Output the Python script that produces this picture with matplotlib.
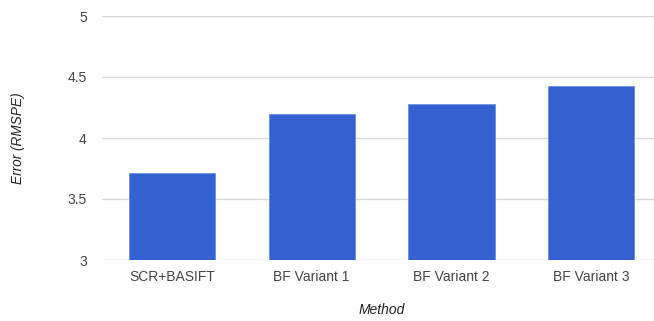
import matplotlib
matplotlib.use("Agg")
import matplotlib.pyplot as plt

categories = ["SCR+BASIFT", "BF Variant 1", "BF Variant 2", "BF Variant 3"]
values = [3.71, 4.20, 4.28, 4.43]
yticks = [3, 3.5, 4, 4.5, 5]
ytick_labels = ["3", "3.5", "4", "4.5", "5"]

plt.rcParams['font.family'] = ['Liberation Sans', 'DejaVu Sans']

fig = plt.figure(figsize=(6.54, 3.21), dpi=100)
ax = fig.add_axes([102/654, 1-260/321, 1-102/654, (260-16)/321])

x = list(range(len(categories)))
ax.bar(x, [v - 3 for v in values], bottom=3, width=0.616, color="#3461d0",
       edgecolor="#6f8fe0", linewidth=0.6, zorder=3)

ax.set_ylim(3, 5)
ax.set_xlim(-0.5, 3.449)
ax.set_yticks(yticks)
ax.set_yticklabels(ytick_labels)
ax.set_xticks(x)
ax.set_xticklabels(categories)
ax.tick_params(axis='both', length=0, labelsize=10, colors="#444444")
ax.tick_params(axis='y', pad=11)
ax.tick_params(axis='x', pad=7)
ax.grid(axis='y', color="#d9d9d9", linewidth=1, zorder=0)
for s in ax.spines.values():
    s.set_visible(False)

fig.text(18/654, 1-138/321, "Error (RMSPE)", fontstyle='italic', fontsize=9.8,
         color="#222222", rotation=90, ha='center', va='center')
fig.text(382/654, 1-310/321, "Method", fontstyle='italic', fontsize=10, color="#222222",
         ha='center', va='center')

fig.savefig("out.png", dpi=100)
